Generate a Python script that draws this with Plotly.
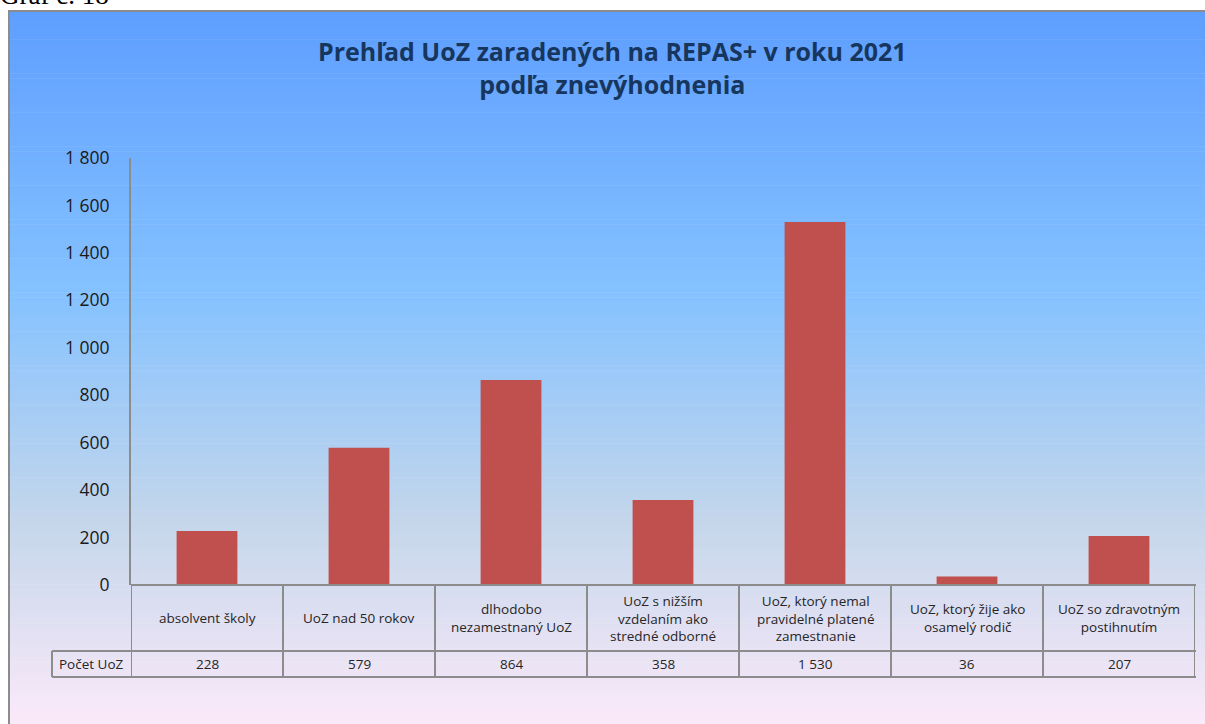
import plotly.graph_objects as go

categories = [
    "absolvent školy",
    "UoZ nad 50 rokov",
    "dlhodobo<br>nezamestnaný UoZ",
    "UoZ s nižším<br>vzdelaním ako<br>stredné odborné",
    "UoZ, ktorý nemal<br>pravidelné platené<br>zamestnanie",
    "UoZ, ktorý žije ako<br>osamelý rodič",
    "UoZ so zdravotným<br>postihnutím",
]
values = [228, 579, 864, 358, 1530, 36, 207]
value_labels = ["228", "579", "864", "358", "1 530", "36", "207"]
series_name = "Počet UoZ"
title_text = "<b>Prehľad UoZ zaradených na REPAS+ v roku 2021<br>podľa znevýhodnenia</b>"
y_ticks = [0, 200, 400, 600, 800, 1000, 1200, 1400, 1600, 1800]

W, H = 1205, 724
def px_x(p):
    return p / W
def px_y(p):
    return 1 - p / H

fig = go.Figure()
fig.add_trace(go.Bar(
    x=list(range(len(categories))), y=values, width=0.4,
    marker=dict(color="#c0504d", line=dict(width=0)),
    name=series_name, hoverinfo="y",
))

shapes = []
# gradient background (frame interior)
stops = [(0.0, (94, 158, 255)), (0.39, (133, 194, 255)), (0.70, (196, 214, 235)), (1.0, (255, 235, 250))]
def grad(t):
    for (t0, c0), (t1, c1) in zip(stops[:-1], stops[1:]):
        if t0 <= t <= t1:
            f = (t - t0) / (t1 - t0)
            return tuple(round(a + (b - a) * f) for a, b in zip(c0, c1))
    return stops[-1][1]
top_px, bot_px = 10, 740
n = 150
for i in range(n):
    y0 = top_px + (bot_px - top_px) * i / n
    y1 = top_px + (bot_px - top_px) * (i + 1) / n + 0.6
    c = grad((i + 0.5) / n)
    shapes.append(dict(type="rect", xref="paper", yref="paper", layer="below",
                       x0=px_x(8), x1=1.01, y0=px_y(min(y1, H + 2)), y1=px_y(y0),
                       fillcolor="rgb(%d,%d,%d)" % c, line=dict(width=0)))
# frame border
shapes.append(dict(type="line", xref="paper", yref="paper", x0=px_x(8), x1=1.01, y0=px_y(11), y1=px_y(11),
                   line=dict(color="#8c8c8c", width=2)))
shapes.append(dict(type="line", xref="paper", yref="paper", x0=px_x(9), x1=px_x(9), y0=px_y(10), y1=-0.01,
                   line=dict(color="#8c8c8c", width=2)))

grid = "#8c8c8c"
row1_bot = px_y(651)
row2_bot = px_y(677)
axis_y = px_y(585)
n_cat = len(categories)
# vertical table lines at category boundaries
for i in range(n_cat + 1):
    shapes.append(dict(type="line", xref="x", yref="paper", x0=i - 0.5, x1=i - 0.5,
                       y0=row2_bot, y1=axis_y, line=dict(color=grid, width=2)))
# horizontal table lines
shapes.append(dict(type="line", xref="paper", yref="paper", x0=px_x(52), x1=px_x(1196),
                   y0=row1_bot, y1=row1_bot, line=dict(color=grid, width=2)))
shapes.append(dict(type="line", xref="paper", yref="paper", x0=px_x(52), x1=px_x(1196),
                   y0=row2_bot, y1=row2_bot, line=dict(color=grid, width=2)))
shapes.append(dict(type="line", xref="paper", yref="paper", x0=px_x(52), x1=px_x(52),
                   y0=row2_bot, y1=row1_bot, line=dict(color=grid, width=2)))
shapes.append(dict(type="line", xref="paper", yref="paper", x0=px_x(131), x1=px_x(1196),
                   y0=axis_y, y1=axis_y, line=dict(color=grid, width=2)))

annotations = []
FONT = "Open Sans, Noto Sans, sans-serif"
lab_font = dict(family=FONT, size=13.5, color="#262626")
for i, (c, v) in enumerate(zip(categories, value_labels)):
    annotations.append(dict(x=i, y=(axis_y + row1_bot) / 2, xref="x", yref="paper", text=c,
                            showarrow=False, font=lab_font, xanchor="center", yanchor="middle"))
    annotations.append(dict(x=i, y=(row1_bot + row2_bot) / 2, xref="x", yref="paper", text=v,
                            showarrow=False, font=lab_font, xanchor="center", yanchor="middle"))
annotations.append(dict(x=px_x(91.5), y=(row1_bot + row2_bot) / 2, xref="paper", yref="paper",
                        text=series_name, showarrow=False, font=lab_font,
                        xanchor="center", yanchor="middle"))
annotations.append(dict(x=px_x(612), y=px_y(68), xref="paper", yref="paper", text=title_text,
                        showarrow=False, xanchor="center", yanchor="middle",
                        font=dict(family=FONT, size=25, color="#17365d")))
annotations.append(dict(x=px_x(-2), y=px_y(12), xref="paper", yref="paper", text="Graf č. 18",
                        showarrow=False, xanchor="left", yanchor="bottom",
                        font=dict(family="Liberation Serif, Times New Roman, serif", size=27, color="black")))

fig.update_layout(
    template="none",
    width=W, height=H, autosize=False, margin=dict(l=0, r=0, t=0, b=0, pad=0),
    paper_bgcolor="white", plot_bgcolor="rgba(0,0,0,0)",
    separators=", ",
    showlegend=False, bargap=0.6,
    shapes=shapes, annotations=annotations,
    xaxis=dict(domain=[px_x(131), px_x(1195)], range=[-0.5, n_cat - 0.5], automargin=False,
               showticklabels=False, showgrid=False, zeroline=False, showline=False, fixedrange=True),
    yaxis=dict(domain=[px_y(585), px_y(158)], range=[0, 1800], tickvals=y_ticks, automargin=False,
               tickformat=",d", showgrid=False, zeroline=False,
               showline=True, linecolor=grid, linewidth=2,
               ticks="outside", ticklen=16, tickcolor="rgba(0,0,0,0)",
               tickfont=dict(family=FONT, size=17.5, color="#1a1a1a")),
)

fig.write_html("out.html", config={"displayModeBar": False},
               post_script="document.body.style.margin='0';document.body.style.overflow='hidden';")
